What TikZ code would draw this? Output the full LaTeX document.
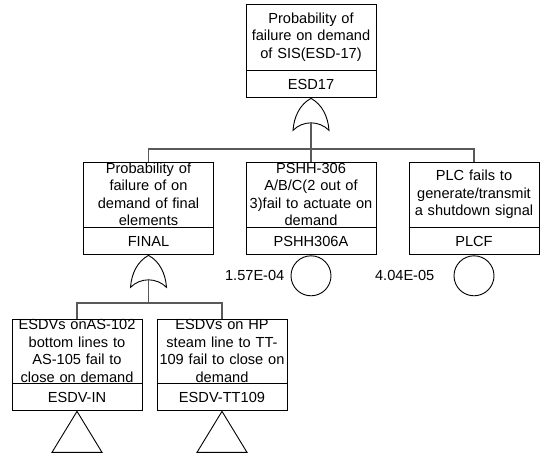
\documentclass[tikz,border=0pt]{standalone}
\usepackage{fontspec}
\setmainfont{Liberation Sans}
\usetikzlibrary{positioning}

\begin{document}
\begin{tikzpicture}[x=1pt,y=-1pt,node distance=0pt,
    font=\fontsize{14.6}{17.5}\selectfont,
    every node/.style={inner sep=0pt},
    desc/.style={draw,line width=0.9pt,text width=124pt,inner xsep=3pt,align=center,minimum height=65pt},
    ident/.style={draw,line width=0.9pt,minimum width=130pt,minimum height=27pt},
    basic/.style={draw,circle,line width=0.9pt,minimum size=40pt},
    link/.style={draw=black!65,line width=1.3pt},
    orgate/.pic={
      \draw[line width=0.9pt] (0,0) .. controls (11,6) and (17,18) .. (18,32)
        .. controls (8,22) and (-8,22) .. (-18,32)
        .. controls (-17,18) and (-11,6) .. (0,0);
      \coordinate (-out) at (0,24.5);
    }]
  \useasboundingbox (0,0) rectangle (541,455);

  % top event
  \node[desc,minimum height=66pt] (sis) at (311,37) {Probability of\\failure on demand\\of SIS(ESD-17)};
  \node[ident] (sisid) [below=of sis] {ESD17};
  \pic (g1) at (sisid.south) {orgate};

  % second level
  \node[desc] (final) at (148.5,194.5) {Probability of\\failure of on\\demand of final\\elements};
  \node[ident] (finalid) [below=of final] {FINAL};
  \node[desc] (pshh) at (311,194.5) {PSHH-306\\A/B/C(2 out of\\3)fail to actuate on\\demand};
  \node[ident] (pshhid) [below=of pshh] {PSHH306A};
  \node[desc] (plc) at (474,194.5) {PLC fails to\\generate/transmit\\a shutdown signal};
  \node[ident] (plcid) [below=of plc] {PLCF};

  \node[basic] (pshhev) [below=of pshhid] {};
  \node (pshhp) [left=6pt of pshhev] {1.57E-04};
  \node[basic] (plcev) [below=of plcid] {};
  \node (plcp) [left=19pt of plcev] {4.04E-05};

  \pic (g2) at (finalid.south) {orgate};

  % third level
  \node[desc,minimum height=64pt] (esdvin) at (77,351) {ESDVs onAS-102\\bottom lines to\\AS-105 fail to\\close on demand};
  \node[ident] (esdvinid) [below=of esdvin] {ESDV-IN};
  \node[desc,minimum height=64pt] (esdvtt) at (222,351) {ESDVs on HP\\steam line to TT-\\\makebox[\linewidth][c]{109 fail to close on}\\demand};
  \node[ident] (esdvttid) [below=of esdvtt] {ESDV-TT109};

  \draw[line width=0.9pt] (esdvinid.south) -- ++(-25,41) -- ++(50,0) -- cycle;
  \draw[line width=0.9pt] (esdvttid.south) -- ++(-25,41) -- ++(50,0) -- cycle;

  \coordinate (bus1) at (311,149);
  \coordinate (bus2) at (148.5,303);
  \draw[link] (g1-out) -- (bus1) -| (final.north);
  \draw[link] (bus1) -| (plc.north);
  \draw[link] (bus1) -- (pshh.north);
  \draw[link] (g2-out) -- (bus2) -| (esdvin.north);
  \draw[link] (bus2) -| (esdvtt.north);
  %\draw[link] (bus2) -- (finalid.south);
\end{tikzpicture}
\end{document}
